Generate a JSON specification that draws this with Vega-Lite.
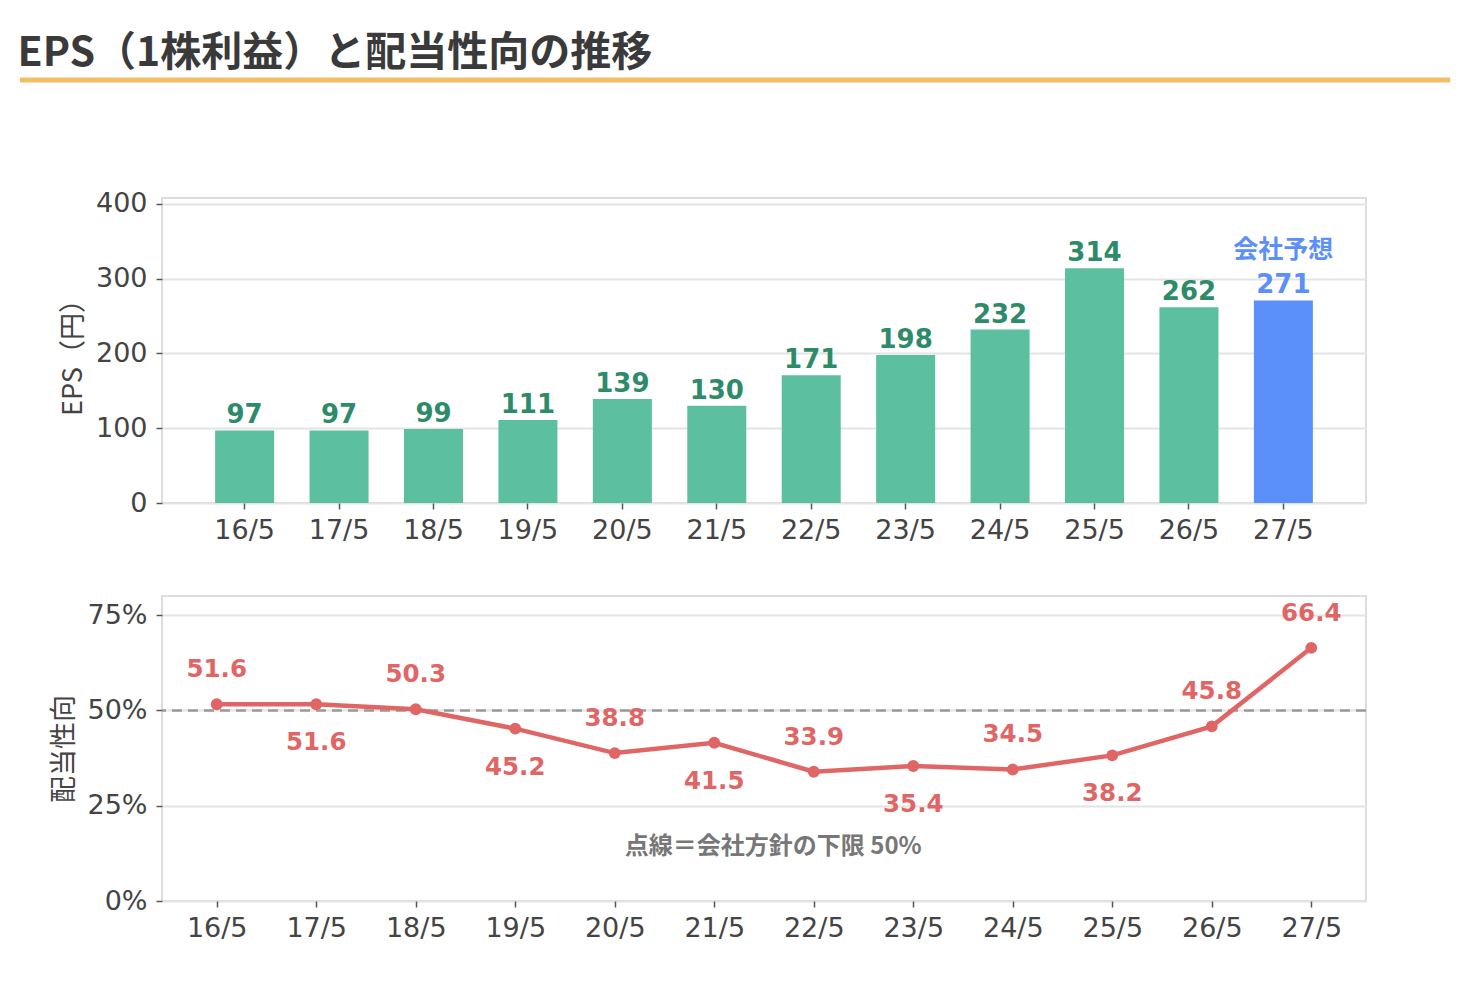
{
  "$schema": "https://vega.github.io/schema/vega-lite/v6.json",
  "padding": {"left": 17, "top": 32, "right": 17, "bottom": 10},
  "title": {
    "text": "EPS（1株利益）と配当性向の推移",
    "anchor": "start",
    "fontSize": 41,
    "fontWeight": "bold",
    "color": "#3a3a3a",
    "font": "Noto Sans CJK JP",
    "offset": 3
  },
  "bounds": "flush",
  "spacing": 93,
  "datasets": {
    "eps": [
      {"year": "16/5", "eps": 97},
      {"year": "17/5", "eps": 97},
      {"year": "18/5", "eps": 99},
      {"year": "19/5", "eps": 111},
      {"year": "20/5", "eps": 139},
      {"year": "21/5", "eps": 130},
      {"year": "22/5", "eps": 171},
      {"year": "23/5", "eps": 198},
      {"year": "24/5", "eps": 232},
      {"year": "25/5", "eps": 314},
      {"year": "26/5", "eps": 262},
      {"year": "27/5", "eps": 271, "note": "会社予想"}
    ],
    "payout": [
      {"year": "16/5", "ratio": 51.6},
      {"year": "17/5", "ratio": 51.6},
      {"year": "18/5", "ratio": 50.3},
      {"year": "19/5", "ratio": 45.2},
      {"year": "20/5", "ratio": 38.8},
      {"year": "21/5", "ratio": 41.5},
      {"year": "22/5", "ratio": 33.9},
      {"year": "23/5", "ratio": 35.4},
      {"year": "24/5", "ratio": 34.5},
      {"year": "25/5", "ratio": 38.2},
      {"year": "26/5", "ratio": 45.8},
      {"year": "27/5", "ratio": 66.4}
    ]
  },
  "config": {
    "font": "Noto Sans CJK JP",
    "view": {"stroke": "#dddddd", "strokeWidth": 2},
    "axis": {
      "labelFontSize": 27,
      "labelColor": "#444444",
      "labelFont": "DejaVu Sans",
      "titleFont": "Noto Sans CJK JP",
      "titleFontSize": 27,
      "titleFontWeight": "normal",
      "titleColor": "#444444",
      "gridColor": "#e4e4e4",
      "gridWidth": 2,
      "domain": false,
      "tickColor": "#555555",
      "tickSize": 6,
      "tickWidth": 1.5,
      "labelPadding": 9
    }
  },
  "vconcat": [
    {
      "width": 1204,
      "height": 25,
      "view": {"stroke": null},
      "data": {"values": [{}]},
      "mark": {"type": "rule", "color": "#F2BE66", "strokeWidth": 5, "clip": false},
      "encoding": {
        "x": {"datum": -0.118, "type": "quantitative", "scale": {"domain": [0, 1]}, "axis": null},
        "x2": {"datum": 1.07},
        "y": {"datum": 1, "type": "quantitative", "scale": {"domain": [0, 1]}, "axis": null}
      }
    },
    {
      "width": 1204,
      "height": 305,
      "data": {"name": "eps"},
      "encoding": {
        "x": {
          "field": "year",
          "type": "nominal",
          "sort": null,
          "scale": {"paddingInner": 0.375, "paddingOuter": 0.5625},
          "axis": {"title": null, "labelAngle": 0, "grid": false, "labelPadding": 8}
        },
        "y": {
          "field": "eps",
          "type": "quantitative",
          "scale": {"domain": [0, 408], "nice": false},
          "axis": {"title": "EPS（円）", "values": [0, 100, 200, 300, 400], "titlePadding": 8}
        }
      },
      "layer": [
        {
          "mark": {"type": "bar"},
          "encoding": {
            "color": {"condition": {"test": "datum.note", "value": "#5B8FF9"}, "value": "#5CBF9F"}
          }
        },
        {
          "mark": {"type": "text", "baseline": "alphabetic", "dy": -7, "fontSize": 26, "fontWeight": "bold", "font": "DejaVu Sans"},
          "encoding": {
            "text": {"field": "eps"},
            "color": {"condition": {"test": "datum.note", "value": "#5B8FF9"}, "value": "#2E8B6A"}
          }
        },
        {
          "transform": [{"filter": "datum.note"}],
          "mark": {"type": "text", "baseline": "alphabetic", "dy": -42, "fontSize": 25, "fontWeight": "bold", "color": "#5B8FF9"},
          "encoding": {"text": {"field": "note"}}
        }
      ]
    },
    {
      "width": 1204,
      "height": 305,
      "data": {"name": "payout"},
      "encoding": {
        "y": {
          "field": "ratio",
          "type": "quantitative",
          "scale": {"domain": [0, 80], "nice": false},
          "axis": {"title": "配当性向", "values": [0, 25, 50, 75], "labelExpr": "datum.value + '%'", "titlePadding": 8}
        }
      },
      "layer": [
        {
          "data": {"values": [{"limit": 50}]},
          "mark": {"type": "rule", "strokeDash": [10, 6], "color": "#999999", "strokeWidth": 2.5},
          "encoding": {"y": {"field": "limit", "type": "quantitative"}}
        },
        {
          "mark": {"type": "line", "color": "#E06666", "strokeWidth": 4.5, "point": {"filled": true, "size": 140, "color": "#E06666"}},
          "encoding": {
            "x": {
              "field": "year",
              "type": "nominal",
              "sort": null,
              "scale": {"type": "point", "padding": 0.55},
              "axis": {"title": null, "labelAngle": 0, "grid": false, "labelPadding": 8}
            }
          }
        },
        {
          "transform": [{"filter": {"not": {"field": "year", "oneOf": ["17/5", "19/5", "21/5", "23/5", "25/5"]}}}],
          "mark": {"type": "text", "baseline": "middle", "dy": -34, "fontSize": 24.5, "fontWeight": "bold", "font": "DejaVu Sans", "color": "#E06666"},
          "encoding": {
            "x": {"field": "year", "type": "nominal", "sort": null},
            "text": {"field": "ratio", "format": ".1f"}
          }
        },
        {
          "transform": [{"filter": {"field": "year", "oneOf": ["17/5", "19/5", "21/5", "23/5", "25/5"]}}],
          "mark": {"type": "text", "baseline": "middle", "dy": 39, "fontSize": 24.5, "fontWeight": "bold", "font": "DejaVu Sans", "color": "#E06666"},
          "encoding": {
            "x": {"field": "year", "type": "nominal", "sort": null},
            "text": {"field": "ratio", "format": ".1f"}
          }
        },
        {
          "transform": [{"filter": {"field": "year", "equal": "21/5"}}],
          "mark": {"type": "text", "baseline": "middle", "dx": 59, "fontSize": 24, "fontWeight": "bold", "color": "#777777"},
          "encoding": {
            "x": {"field": "year", "type": "nominal", "sort": null},
            "y": {"datum": 14.2},
            "text": {"value": "点線＝会社方針の下限 50%"}
          }
        }
      ]
    }
  ]
}
